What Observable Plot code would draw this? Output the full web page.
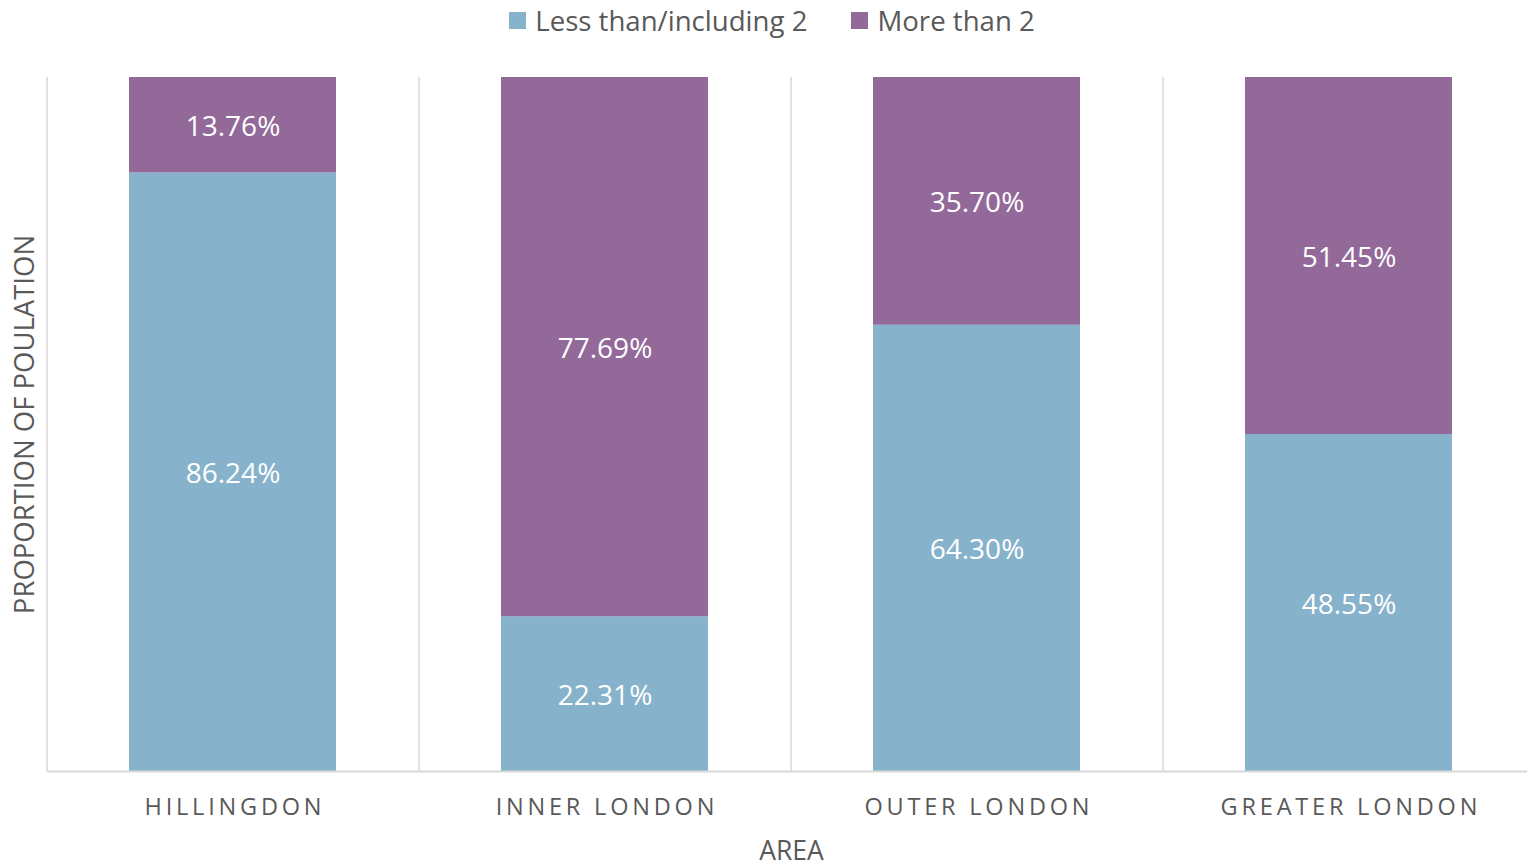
<!DOCTYPE html>
<html>
<head>
<meta charset="utf-8">
<script src="https://cdn.jsdelivr.net/npm/d3@7"></script>
<script src="https://cdn.jsdelivr.net/npm/@observablehq/plot@0.6"></script>
<style>
  html, body { margin: 0; padding: 0; background: #fff; }
  body { width: 1527px; height: 867px; overflow: hidden; font-family: "Open Sans", sans-serif; }
  #legend { height: 45px; display: flex; justify-content: center; align-items: flex-start; padding-left: 17px; box-sizing: border-box; }
  .item { display: flex; align-items: center; height: 40px; font-size: 27.6px; color: #595959; margin: 0 22px; }
  .sw { width: 17px; height: 17px; margin-right: 9px; }
  #chart svg g[aria-label="x-axis tick label"] text { letter-spacing: 3.8px; }
</style>
</head>
<body>
<div id="legend"></div>
<div id="chart"></div>
<script>
const categories = ["Hillingdon", "Inner London", "Outer London", "Greater London"];
const seriesNames = ["Less than/including 2", "More than 2"];
const lessOrEqual2 = [86.24, 22.31, 64.30, 48.55];
const moreThan2 = [13.76, 77.69, 35.70, 51.45];
const colors = ["#87b2cc", "#93699a"];
const yTitle = "PROPORTION OF POULATION";
const xTitle = "AREA";

const data = [];
categories.forEach((c, i) => {
  data.push({area: c, series: seriesNames[0], value: lessOrEqual2[i]});
  data.push({area: c, series: seriesNames[1], value: moreThan2[i]});
});

// legend
const legend = document.getElementById("legend");
seriesNames.forEach((s, i) => {
  const it = document.createElement("div");
  it.className = "item";
  it.innerHTML = `<span class="sw" style="background:${colors[i]}"></span><span>${s}</span>`;
  legend.appendChild(it);
});

const W = 1527, H = 822;
const mL = 47, mR = -8, mT = 32, mB = 96;
const xRange = [mL, W - mR];
const step = (xRange[1] - xRange[0]) / categories.length;
const pad = 0.4435;

const stackOpts = {x: "area", y: "value", z: "series", order: seriesNames};

const chart = Plot.plot({
  width: W,
  height: H,
  marginLeft: mL,
  marginRight: mR,
  marginTop: mT,
  marginBottom: mB,
  style: {fontFamily: "Open Sans, sans-serif", background: "#fff"},
  x: {domain: categories, range: xRange, paddingInner: pad, paddingOuter: pad / 2, axis: null},
  y: {domain: [0, 100], axis: null},
  color: {domain: seriesNames, range: colors},
  marks: [
    Plot.ruleX(categories, {x: d => d, dx: -step / 2, y1: 0, y2: 100, stroke: "#d9d9d9", strokeWidth: 1.5}),
    Plot.barY(data, Plot.stackY({...stackOpts, fill: "series"})),
    Plot.text(data, Plot.stackY({...stackOpts, y: "value", text: d => d.value.toFixed(2) + "%", fill: "white", fontSize: 28, dy: 2})),
    Plot.ruleY([0], {stroke: "#d9d9d9", strokeWidth: 2}),
    Plot.axisX({tickSize: 0, tickPadding: 27, fontSize: 23.5, fill: "#595959", dx: 1.9, tickFormat: d => d.toUpperCase(), label: null}),
    Plot.text([xTitle], {frameAnchor: "bottom", dy: 88, fontSize: 26.5, fill: "#595959"}),
    Plot.text([yTitle], {frameAnchor: "left", textAnchor: "middle", rotate: -90, dx: -22, fontSize: 27.5, fill: "#595959"})
  ]
});
document.getElementById("chart").appendChild(chart);
</script>
</body>
</html>
